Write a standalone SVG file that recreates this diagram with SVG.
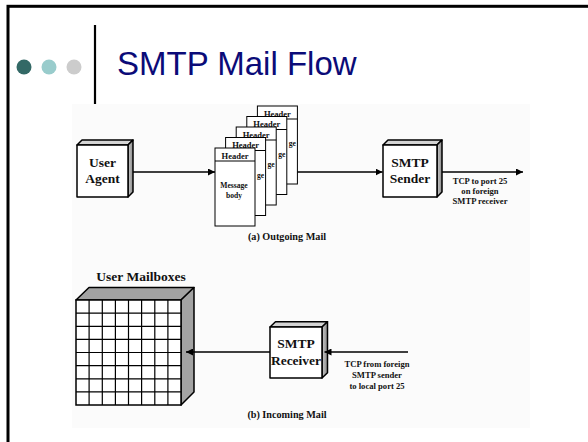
<svg xmlns="http://www.w3.org/2000/svg" width="588" height="442" viewBox="0 0 588 442">
  <defs>
    <style>
      .frame { fill: none; stroke: #000; stroke-width: 3; }
      .title { font-family: "Liberation Sans", Arial, sans-serif; font-size: 33px; fill: #0b0b78; }
      .face { fill: #fff; stroke: #000; stroke-width: 1.5; stroke-linejoin: round; }
      .top { fill: #d4d4d4; stroke: #000; stroke-width: 1.5; stroke-linejoin: round; }
      .side { fill: url(#sideShade); stroke: #000; stroke-width: 1.5; stroke-linejoin: round; }
      .mbox { fill: #a3a3a3; stroke: #000; stroke-width: 1.5; stroke-linejoin: round; }
      .grid { fill: none; stroke: #000; stroke-width: 1.2; }
      .page { fill: #fff; stroke: #000; stroke-width: 1; }
      .rule { stroke: #000; stroke-width: 1; }
      .lbl { font-family: "Liberation Serif", "Times New Roman", serif; font-weight: bold; fill: #111; text-anchor: middle; }
      .frag { font-family: "Liberation Serif", "Times New Roman", serif; font-weight: bold; fill: #111; text-anchor: end; font-size: 7.6px; }
      .big { font-size: 13.5px; }
      .hdr { font-size: 8.5px; }
      .msg { font-size: 7.6px; }
      .small { font-size: 8.6px; }
      .cap { font-size: 10.2px; }
      .wire { stroke: #000; stroke-width: 1.5; fill: none; }
    </style>
    <linearGradient id="sideShade" x1="0" y1="0" x2="1" y2="0">
      <stop offset="0" stop-color="#c8c8c8"/>
      <stop offset="1" stop-color="#8c8c8c"/>
    </linearGradient>
    <marker id="arrow" viewBox="0 0 10 10" refX="10" refY="5" markerWidth="7" markerHeight="7" markerUnits="userSpaceOnUse" orient="auto">
      <path d="M0,0 L10,5 L0,10 z" fill="#000"/>
    </marker>
  </defs>

  <rect x="0" y="0" width="588" height="442" fill="#fff"/>
  <!-- slide frame, open to the right and bottom -->
  <rect class="frame" x="8" y="6.3" width="600" height="460"/>

  <!-- slide header -->
  <g id="header">
    <circle cx="24" cy="67" r="7.5" fill="#336966"/>
    <circle cx="49" cy="67" r="7.5" fill="#99cccc"/>
    <circle cx="74" cy="67" r="7.5" fill="#cccccc"/>
    <line x1="95" y1="25" x2="95" y2="104" stroke="#000" stroke-width="2.2"/>
    <text class="title" x="117" y="75">SMTP Mail Flow</text>
  </g>

  <!-- figure background -->
  <rect x="72" y="104" width="458" height="324" fill="#fbfbfb"/>

  <!-- User Agent -->
  <g id="user-agent">
    <polygon class="top" points="77,145 82,140 133,140 128,145"/>
    <polygon class="side" points="128,145 133,140 133,192 128,197"/>
    <rect class="face" x="77" y="145" width="51" height="52"/>
    <text class="lbl big" x="102.5" y="166.5">User</text>
    <text class="lbl big" x="102.5" y="183.3">Agent</text>
  </g>

  <!-- stack of messages, back to front; only the tail of each hidden
       page's body text shows past the page in front of it -->
  <g id="messages">
    <g transform="translate(257.4,106)">
      <rect class="page" width="40" height="78"/>
      <line class="rule" x1="0" y1="13" x2="40" y2="13"/>
      <text class="lbl hdr" x="20" y="10.8">Header</text>
      <text class="frag" x="38.5" y="40">ge</text>
    </g>
    <g transform="translate(246.8,116.5)">
      <rect class="page" width="40" height="78"/>
      <line class="rule" x1="0" y1="13" x2="40" y2="13"/>
      <text class="lbl hdr" x="20" y="10.8">Header</text>
      <text class="frag" x="38.5" y="40">ge</text>
    </g>
    <g transform="translate(236.2,127)">
      <rect class="page" width="40" height="78"/>
      <line class="rule" x1="0" y1="13" x2="40" y2="13"/>
      <text class="lbl hdr" x="20" y="10.8">Header</text>
      <text class="frag" x="38.5" y="40">ge</text>
    </g>
    <g transform="translate(225.6,137.5)">
      <rect class="page" width="40" height="78"/>
      <line class="rule" x1="0" y1="13" x2="40" y2="13"/>
      <text class="lbl hdr" x="20" y="10.8">Header</text>
      <text class="frag" x="38.5" y="40">ge</text>
    </g>
    <g transform="translate(215,148)">
      <rect class="page" width="40" height="78"/>
      <line class="rule" x1="0" y1="13" x2="40" y2="13"/>
      <text class="lbl hdr" x="20" y="10.8">Header</text>
      <text class="lbl msg" x="19" y="40">Message</text>
      <text class="lbl msg" x="19" y="49.5">body</text>
    </g>
  </g>

  <!-- SMTP Sender -->
  <g id="smtp-sender">
    <polygon class="top" points="383,145 388,140 442,140 437,145"/>
    <polygon class="side" points="437,145 442,140 442,192 437,197"/>
    <rect class="face" x="383" y="145" width="54" height="52"/>
    <text class="lbl big" x="410" y="166.7">SMTP</text>
    <text class="lbl big" x="410" y="183.3">Sender</text>
  </g>

  <!-- User Mailboxes -->
  <g id="user-mailboxes">
    <text class="lbl big" x="141" y="281">User Mailboxes</text>
    <polygon class="mbox" points="76,300 89,287.5 194,287.5 181,300"/>
    <polygon class="mbox" points="181,300 194,287.5 194,392 181,405"/>
    <rect x="76" y="300" width="105" height="105" fill="#fff" stroke="#000" stroke-width="1.5"/>
    <path class="grid" d="M89.1,300V405M102.3,300V405M115.4,300V405M128.5,300V405M141.6,300V405M154.8,300V405M167.9,300V405
                          M76,313.1H181M76,326.3H181M76,339.4H181M76,352.5H181M76,365.6H181M76,378.8H181M76,391.9H181"/>
  </g>

  <!-- SMTP Receiver -->
  <g id="smtp-receiver">
    <polygon class="top" points="270,327 275.5,321.7 327.5,321.7 322,327"/>
    <polygon class="side" points="322,327 327.5,321.7 327.5,372.7 322,378"/>
    <rect class="face" x="270" y="327" width="52" height="51"/>
    <text class="lbl big" x="296" y="348.3">SMTP</text>
    <text class="lbl big" x="296" y="365">Receiver</text>
  </g>

  <!-- connectors -->
  <g id="connectors">
    <line class="wire" x1="133" y1="172" x2="215" y2="172" marker-end="url(#arrow)"/>
    <line class="wire" x1="297.4" y1="172" x2="382.5" y2="172" marker-end="url(#arrow)"/>
    <line class="wire" x1="442" y1="172" x2="523" y2="172" marker-end="url(#arrow)"/>
    <line class="wire" x1="408" y1="352" x2="324.5" y2="352" marker-end="url(#arrow)"/>
    <line class="wire" x1="270" y1="352" x2="186" y2="352" marker-end="url(#arrow)"/>
  </g>

  <!-- annotations -->
  <g id="labels">
    <text class="lbl small" x="480" y="184">TCP to port 25</text>
    <text class="lbl small" x="480" y="194">on foreign</text>
    <text class="lbl small" x="480" y="204">SMTP receiver</text>
    <text class="lbl cap" x="287" y="240">(a) Outgoing Mail</text>
    <text class="lbl small" x="377" y="367.3">TCP from foreign</text>
    <text class="lbl small" x="377" y="378">SMTP sender</text>
    <text class="lbl small" x="377" y="389">to local port 25</text>
    <text class="lbl cap" x="287" y="418">(b) Incoming Mail</text>
  </g>
</svg>
